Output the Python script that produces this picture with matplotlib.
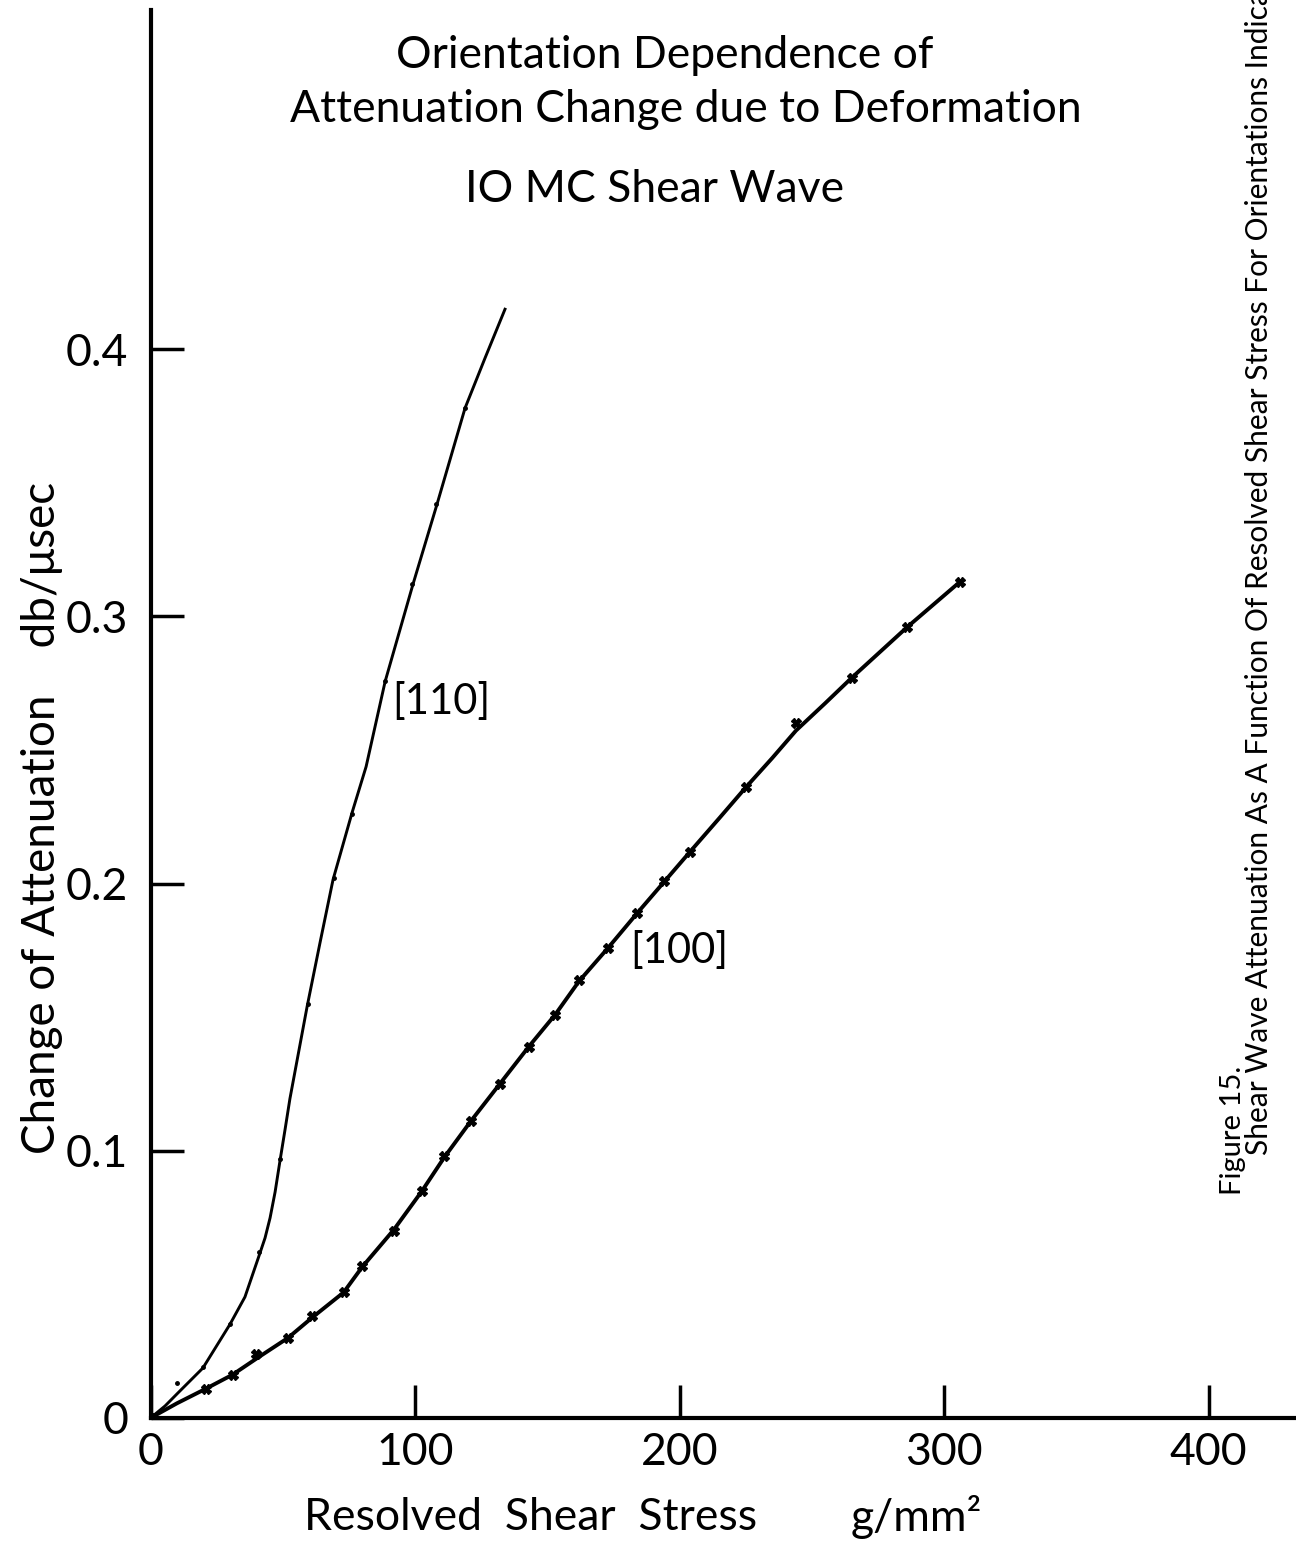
import matplotlib
matplotlib.use("Agg")
import matplotlib.pyplot as plt

plt.rcParams['font.family'] = ['Lato', 'DejaVu Sans']

x_110 = [0, 10, 20, 30, 41, 49, 59.5, 69.5, 76, 88.5, 99, 108, 119]
y_110 = [0, 0.013, 0.019, 0.035, 0.062, 0.097, 0.155, 0.202, 0.226, 0.276, 0.312, 0.342, 0.378]
# drawn curve for [110]
cx_110 = [0, 5.5, 10.4, 19.8, 30, 35.7, 41.4, 43.3, 45.2, 47.1, 49, 50.9, 52.7, 59.2,
          64.1, 69, 76.2, 81.5, 88.7, 99.2, 108.3, 118.9, 126.4, 134]
cy_110 = [0, 0.0045, 0.0094, 0.0187, 0.035, 0.0453, 0.0618, 0.0674, 0.0749, 0.0846,
          0.0966, 0.1082, 0.1195, 0.154, 0.178, 0.2015, 0.2266, 0.2438, 0.2757, 0.312,
          0.342, 0.378, 0.3966, 0.415]

# [100] orientation: measured points
x_100 = [0, 21, 31, 40, 52, 61, 73, 80, 92, 102.5, 111, 121, 132, 143, 153, 162,
         173, 184, 194, 204, 225, 244, 265, 286, 306]
y_100 = [0, 0.011, 0.016, 0.024, 0.030, 0.038, 0.047, 0.057, 0.070, 0.085, 0.098, 0.111,
         0.125, 0.139, 0.151, 0.164, 0.176, 0.189, 0.201, 0.212, 0.236, 0.260, 0.277,
         0.296, 0.313]
# drawn curve for [100]
cx_100 = [0, 10, 21, 31, 40, 52, 61, 73, 80, 92, 102.5, 111, 121, 132, 143, 153, 162,
          173, 184, 194, 204, 215, 225, 235, 244, 255, 265, 286, 306]
cy_100 = [0, 0.0055, 0.011, 0.0162, 0.0222, 0.030, 0.0375, 0.047, 0.0565, 0.0705,
          0.0848, 0.0975, 0.111, 0.125, 0.139, 0.151, 0.1635, 0.176, 0.189, 0.2005,
          0.212, 0.2245, 0.236, 0.247, 0.2573, 0.2675, 0.277, 0.296, 0.313]

xticks = [0, 100, 200, 300, 400]
xticklabels = ['0', '100', '200', '300', '400']
yticks = [0, 0.1, 0.2, 0.3, 0.4]
yticklabels = ['0', '0.1', '0.2', '0.3', '0.4']

fig = plt.figure(figsize=(12.96, 15.43), dpi=100)
ax = fig.add_axes([150.5 / 1296, 125 / 1543, 1 - 150.5 / 1296, 1408 / 1543])

# curves
ax.plot(cx_110, cy_110, color='black', lw=2.1)
ax.plot(cx_100, cy_100, color='black', lw=2.8)
# measured points
ax.plot(x_110, y_110, ls='none', color='black', marker='.', ms=5)
ax.plot(x_100, y_100, ls='none', color='black', marker='X', ms=7)

ax.set_xlim(0, 433)
ax.set_ylim(0, 0.527)

for s in ['top', 'right']:
    ax.spines[s].set_visible(False)
for s in ['left', 'bottom']:
    ax.spines[s].set_linewidth(3)

ax.set_xticks(xticks)
ax.set_xticklabels(xticklabels, fontsize=32)
ax.set_yticks(yticks)
ax.set_yticklabels(yticklabels, fontsize=32)
ax.tick_params(axis='both', direction='in', length=24, width=2.5)
ax.tick_params(axis='x', pad=10)
ax.tick_params(axis='y', pad=16)

# axis titles
fig.text(531 / 1296, 1 - 1517 / 1543, 'Resolved  Shear  Stress', fontsize=32,
         ha='center', va='center')
fig.text(916 / 1296, 1 - 1517 / 1543, 'g/mm\u00b2', fontsize=32,
         ha='center', va='center')
fig.text(42 / 1296, 1 - 818 / 1543, 'Change of Attenuation    db/\u03bcsec', fontsize=33,
         rotation=90, ha='center', va='center')

ax.text(110, 0.268, '[110]', fontsize=30, ha='center', va='center')
ax.text(200, 0.175, '[100]', fontsize=30, ha='center', va='center')

fig.text(665 / 1296, 1 - 55 / 1543, 'Orientation Dependence of', fontsize=32,
         ha='center', va='center')
fig.text(686 / 1296, 1 - 110 / 1543, 'Attenuation Change due to Deformation', fontsize=32,
         ha='center', va='center')
fig.text(655 / 1296, 1 - 190 / 1543, 'IO MC Shear Wave', fontsize=32,
         ha='center', va='center')

fig.text(1233 / 1296, 1 - 1195 / 1543, 'Figure 15.', fontsize=21, rotation=90,
         rotation_mode='anchor', ha='left', va='center')
fig.text(1259 / 1296, 1 - 1155 / 1543,
         'Shear Wave Attenuation As A Function Of Resolved Shear Stress For Orientations Indicated',
         fontsize=21.5, rotation=90, rotation_mode='anchor', ha='left', va='center')

fig.savefig('out.png', dpi=100)
